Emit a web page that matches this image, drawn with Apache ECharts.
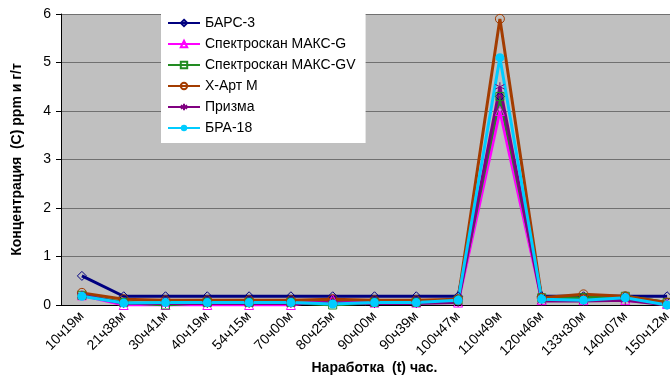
<!DOCTYPE html>
<html>
<head>
<meta charset="utf-8">
<script src="https://cdn.jsdelivr.net/npm/echarts@6/dist/echarts.min.js"></script>
<style>
  html, body { margin: 0; padding: 0; background: #fff; }
  #chart { width: 670px; height: 377px; }
</style>
</head>
<body>
<div id="chart"></div>
<script>
var categories = ['10ч19м', '21ч38м', '30ч41м', '40ч19м', '54ч15м', '70ч00м', '80ч25м', '90ч00м',
  '90ч39м', '100ч47м', '110ч49м', '120ч46м', '133ч30м', '140ч07м', '150ч12м'];

var bars3 = [0.6, 0.18, 0.18, 0.18, 0.18, 0.18, 0.18, 0.18, 0.18, 0.18, 4.3, 0.18, 0.18, 0.18, 0.18];
var maksG = [0.2, 0.0, 0.0, 0.0, 0.0, 0.0, 0.12, 0.05, 0.05, 0.05, 4.0, 0.1, 0.1, 0.1, 0.02];
var maksGV = [0.2, 0.05, 0.0, 0.05, 0.05, 0.05, 0.0, 0.05, 0.05, 0.1, 4.3, 0.15, 0.15, 0.18, 0.05];
var xArt = [0.25, 0.12, 0.1, 0.1, 0.1, 0.1, 0.12, 0.1, 0.1, 0.12, 5.9, 0.15, 0.22, 0.18, 0.05];
var prizma = [0.2, 0.03, 0.03, 0.03, 0.03, 0.03, 0.05, 0.03, 0.03, 0.05, 4.5, 0.08, 0.08, 0.1, 0.0];
var bra18 = [0.18, 0.04, 0.05, 0.05, 0.05, 0.05, 0.02, 0.05, 0.05, 0.1, 5.1, 0.12, 0.1, 0.15, 0.0];

var starPath = 'path://M5,0 L5,10 M0,2.5 L10,7.5 M0,7.5 L10,2.5';

function line(name, data, color, symbol, size, filled) {
  return {
    name: name,
    type: 'line',
    data: data,
    symbol: symbol,
    symbolSize: size,
    showAllSymbol: true,
    lineStyle: { color: color, width: 3 },
    itemStyle: {
      color: filled ? color : 'rgba(0,0,0,0)',
      borderColor: color,
      borderWidth: filled ? 0 : 1
    }
  };
}

var chart = echarts.init(document.getElementById('chart'));
chart.setOption({
  animation: false,
  textStyle: { fontFamily: 'Liberation Sans, Arial, sans-serif' },
  grid: {
    left: 61, top: 14, right: -18, bottom: 72,
    outerBoundsMode: 'none',
    containLabel: false,
    show: true, backgroundColor: '#c0c0c0', borderWidth: 0
  },
  legend: {
    orient: 'vertical',
    left: 161, top: 10,
    backgroundColor: '#fff',
    padding: [6, 10, 8, 6],
    itemGap: 7,
    itemWidth: 32,
    itemHeight: 8,
    textStyle: { fontSize: 14, color: '#000', fontFamily: 'Liberation Sans, Arial, sans-serif' },
    data: ['БАРС-3', 'Спектроскан МАКС-G', 'Спектроскан МАКС-GV', 'Х-Арт М', 'Призма', 'БРА-18']
  },
  xAxis: {
    type: 'category',
    data: categories,
    name: 'Наработка  (t) час.',
    nameLocation: 'middle',
    nameGap: 56,
    nameMoveOverlap: false,
    nameTextStyle: { fontWeight: 'bold', fontSize: 14, color: '#000' },
    axisLine: { lineStyle: { color: '#000' } },
    axisTick: { lineStyle: { color: '#000' } },
    axisLabel: { rotate: 45, fontSize: 14, color: '#000', interval: 0, margin: 9 }
  },
  yAxis: {
    type: 'value',
    min: 0, max: 6, interval: 1,
    name: 'Концентрация  (С) ppm и г/т',
    nameLocation: 'middle',
    nameGap: 37,
    nameMoveOverlap: false,
    nameTextStyle: { fontWeight: 'bold', fontSize: 14, color: '#000' },
    axisLine: { show: true, lineStyle: { color: '#000' } },
    axisTick: { show: true, lineStyle: { color: '#000' } },
    axisLabel: { fontSize: 14, color: '#000', margin: 10 },
    splitLine: { lineStyle: { color: '#707070', width: 1 } }
  },
  series: [
    line('БАРС-3', bars3, '#000080', 'diamond', 9, false),
    line('Спектроскан МАКС-G', maksG, '#ff00ff', 'triangle', 9, false),
    line('Спектроскан МАКС-GV', maksGV, '#228b22', 'rect', 8, false),
    line('Х-Арт М', xArt, '#a33c00', 'circle', 9, false),
    line('Призма', prizma, '#800080', starPath, 9, false),
    line('БРА-18', bra18, '#00ccff', 'circle', 9, true)
  ]
});
</script>
</body>
</html>
